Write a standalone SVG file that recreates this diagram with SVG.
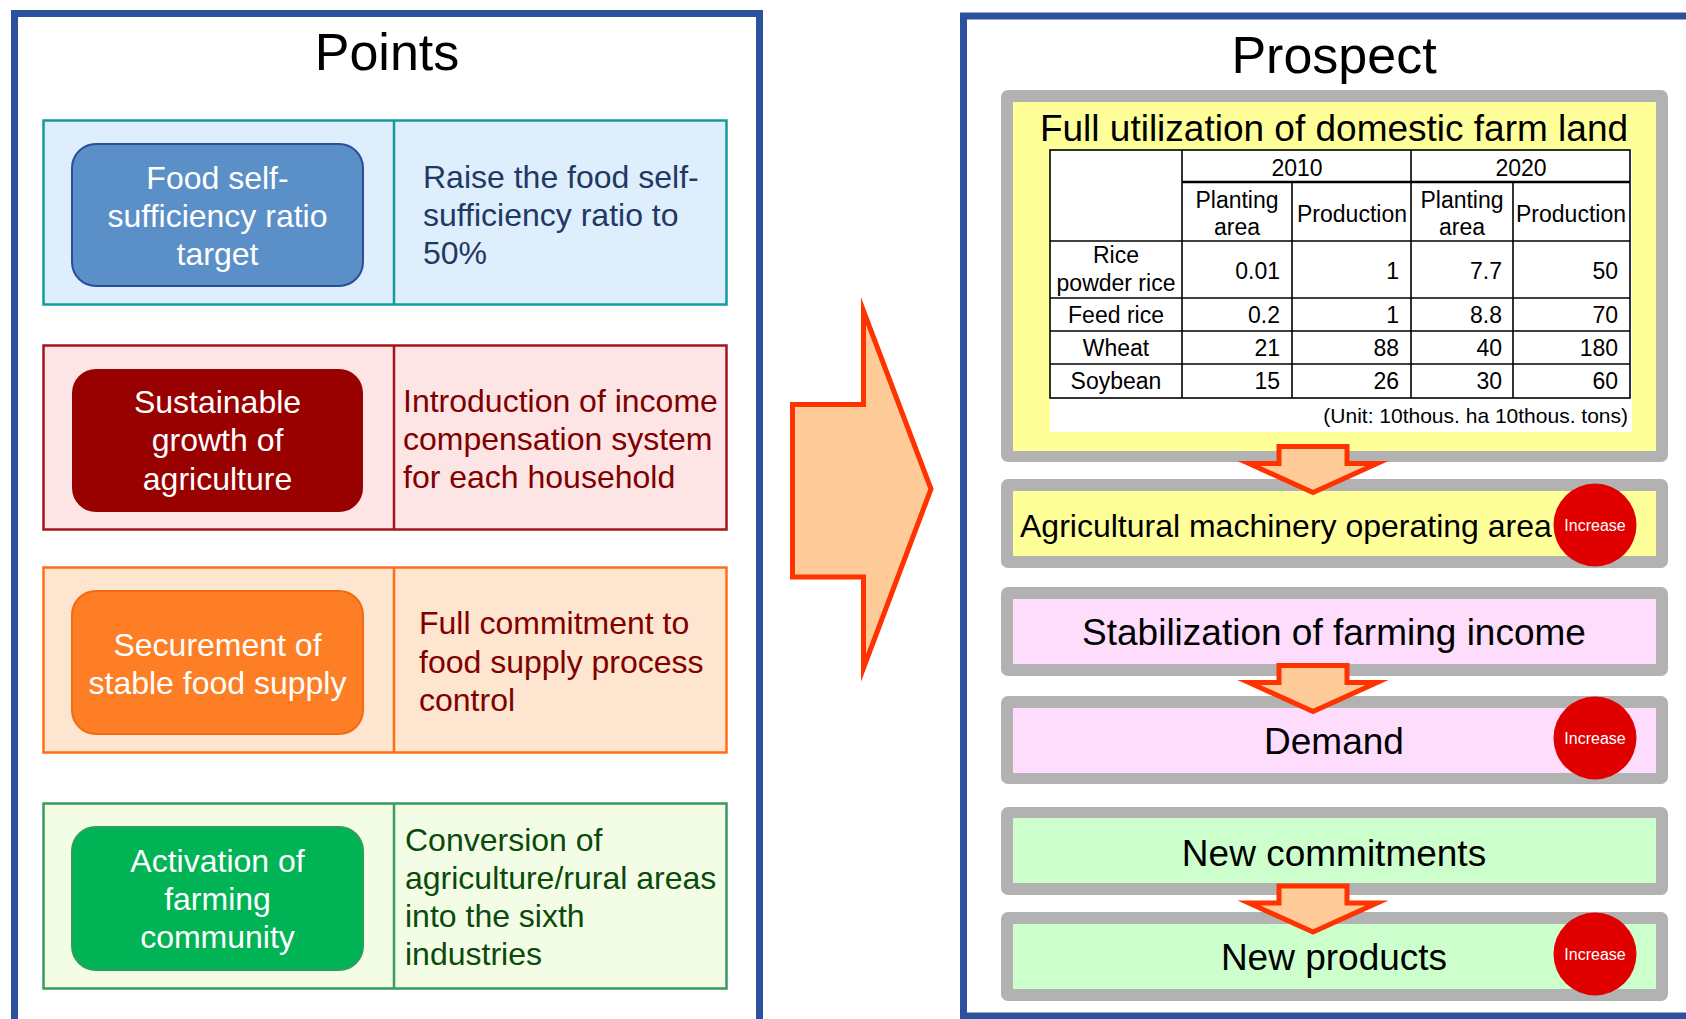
<svg xmlns="http://www.w3.org/2000/svg" width="1686" height="1019" viewBox="0 0 1686 1019">
  <style>
    text { font-family: "Liberation Sans", Arial, sans-serif; }
    .title { font-size: 52px; fill: #000; text-anchor: middle; }
    .pill { font-size: 32px; fill: #fff; text-anchor: middle; }
    .desc { font-size: 32px; }
    .panel { fill: #fff; stroke: #2c519e; stroke-width: 7; }
    .frame { fill: #b2b2b2; }
    .big { font-size: 37px; fill: #000; text-anchor: middle; }
    .tbl { font-size: 23px; fill: #000; }
    .mid { text-anchor: middle; }
    .num { text-anchor: end; }
    .grid { stroke: #000; stroke-width: 1.6; fill: none; }
    .badge { fill: #e00000; }
    .badge-t { font-size: 16px; fill: #fff; text-anchor: middle; }
    .flow { fill: #ffcc99; stroke: #ff3300; stroke-width: 5; stroke-miterlimit: 10; }
  </style>
  <defs>
    <polygon id="down-arrow" points="-34,0 34,0 34,17 64,17 0,46 -64,17 -34,17"/>
  </defs>

  <rect width="1686" height="1019" fill="#fff"/>

  <!-- Left panel: Points -->
  <g id="points-panel">
    <rect class="panel" x="14.5" y="13.5" width="745" height="1030"/>
    <text class="title" x="387" y="70">Points</text>
  </g>

  <g id="point-1">
    <rect x="43.5" y="120.5" width="683" height="184" fill="#deeefc" stroke="#139c9c" stroke-width="2.5"/>
    <line x1="394" y1="120.5" x2="394" y2="304.5" stroke="#139c9c" stroke-width="2.5"/>
    <rect x="72" y="144" width="291" height="142" rx="24" fill="#5b8fc8" stroke="#2a4e9a" stroke-width="2"/>
    <text class="pill" x="217.5" y="189">Food self-</text>
    <text class="pill" x="217.5" y="227">sufficiency ratio</text>
    <text class="pill" x="217.5" y="265">target</text>
    <text class="desc" x="423" y="188" fill="#1f3864">Raise the food self-</text>
    <text class="desc" x="423" y="226" fill="#1f3864">sufficiency ratio to</text>
    <text class="desc" x="423" y="264" fill="#1f3864">50%</text>
  </g>

  <g id="point-2">
    <rect x="43.5" y="345.5" width="683" height="184" fill="#fde5e5" stroke="#a3141c" stroke-width="2.5"/>
    <line x1="394" y1="345.5" x2="394" y2="529.5" stroke="#a3141c" stroke-width="2.5"/>
    <rect x="72" y="369" width="291" height="143" rx="24" fill="#990000"/>
    <text class="pill" x="217.5" y="413">Sustainable</text>
    <text class="pill" x="217.5" y="451">growth of</text>
    <text class="pill" x="217.5" y="490">agriculture</text>
    <text class="desc" x="403" y="412" fill="#800000">Introduction of income</text>
    <text class="desc" x="403" y="450" fill="#800000">compensation system</text>
    <text class="desc" x="403" y="488" fill="#800000">for each household</text>
  </g>

  <g id="point-3">
    <rect x="43.5" y="567.5" width="683" height="185" fill="#fde5cf" stroke="#ff6d1a" stroke-width="2.5"/>
    <line x1="394" y1="567.5" x2="394" y2="752.5" stroke="#ff6d1a" stroke-width="2.5"/>
    <rect x="72" y="591" width="291" height="143" rx="24" fill="#fd7e25" stroke="#f26b12" stroke-width="2"/>
    <text class="pill" x="217.5" y="656">Securement of</text>
    <text class="pill" x="217.5" y="694">stable food supply</text>
    <text class="desc" x="419" y="634" fill="#800000">Full commitment to</text>
    <text class="desc" x="419" y="673" fill="#800000">food supply process</text>
    <text class="desc" x="419" y="711" fill="#800000">control</text>
  </g>

  <g id="point-4">
    <rect x="43.5" y="803.5" width="683" height="185" fill="#f3fde6" stroke="#3a9a60" stroke-width="2.5"/>
    <line x1="394" y1="803.5" x2="394" y2="988.5" stroke="#3a9a60" stroke-width="2.5"/>
    <rect x="72" y="827" width="291" height="143" rx="24" fill="#00b456" stroke="#2e9e5a" stroke-width="2"/>
    <text class="pill" x="217.5" y="872">Activation of</text>
    <text class="pill" x="217.5" y="910">farming</text>
    <text class="pill" x="217.5" y="948">community</text>
    <text class="desc" x="405" y="851" fill="#0a4a0a">Conversion of</text>
    <text class="desc" x="405" y="889" fill="#0a4a0a">agriculture/rural areas</text>
    <text class="desc" x="405" y="927" fill="#0a4a0a">into the sixth</text>
    <text class="desc" x="405" y="965" fill="#0a4a0a">industries</text>
  </g>

  <!-- Right panel: Prospect -->
  <g id="prospect-panel">
    <rect class="panel" x="963.5" y="16" width="760" height="1000"/>
    <text class="title" x="1334" y="73">Prospect</text>
  </g>

  <g id="farm-land">
    <rect class="frame" x="1001" y="90" width="667" height="372" rx="7"/>
    <rect x="1013" y="102" width="643" height="349" fill="#ffff99"/>
    <text class="big" x="1334" y="141">Full utilization of domestic farm land</text>
    <rect x="1050" y="150" width="582" height="282" fill="#fff"/>
    <g class="grid">
      <rect x="1050" y="150" width="580" height="248"/>
      <line x1="1182" y1="150" x2="1182" y2="398"/>
      <line x1="1292" y1="182" x2="1292" y2="398"/>
      <line x1="1411" y1="150" x2="1411" y2="398"/>
      <line x1="1513" y1="182" x2="1513" y2="398"/>
      <line x1="1182" y1="182" x2="1630" y2="182" stroke-width="2.4"/>
      <line x1="1050" y1="241" x2="1630" y2="241"/>
      <line x1="1050" y1="298" x2="1630" y2="298"/>
      <line x1="1050" y1="331" x2="1630" y2="331"/>
      <line x1="1050" y1="364" x2="1630" y2="364"/>
    </g>
    <g class="tbl">
      <text class="mid" x="1297" y="176">2010</text>
      <text class="mid" x="1521" y="176">2020</text>
      <text class="mid" x="1237" y="208">Planting</text>
      <text class="mid" x="1237" y="235">area</text>
      <text class="mid" x="1352" y="222">Production</text>
      <text class="mid" x="1462" y="208">Planting</text>
      <text class="mid" x="1462" y="235">area</text>
      <text class="mid" x="1571" y="222">Production</text>

      <text class="mid" x="1116" y="263">Rice</text>
      <text class="mid" x="1116" y="291">powder rice</text>
      <text class="mid" x="1116" y="323">Feed rice</text>
      <text class="mid" x="1116" y="356">Wheat</text>
      <text class="mid" x="1116" y="389">Soybean</text>

      <text class="num" x="1280" y="279">0.01</text>
      <text class="num" x="1399" y="279">1</text>
      <text class="num" x="1502" y="279">7.7</text>
      <text class="num" x="1618" y="279">50</text>

      <text class="num" x="1280" y="323">0.2</text>
      <text class="num" x="1399" y="323">1</text>
      <text class="num" x="1502" y="323">8.8</text>
      <text class="num" x="1618" y="323">70</text>

      <text class="num" x="1280" y="356">21</text>
      <text class="num" x="1399" y="356">88</text>
      <text class="num" x="1502" y="356">40</text>
      <text class="num" x="1618" y="356">180</text>

      <text class="num" x="1280" y="389">15</text>
      <text class="num" x="1399" y="389">26</text>
      <text class="num" x="1502" y="389">30</text>
      <text class="num" x="1618" y="389">60</text>

      <text class="num" x="1628" y="423" font-size="21">(Unit: 10thous. ha 10thous. tons)</text>
    </g>
  </g>

  <g id="machinery-area">
    <rect class="frame" x="1001" y="479" width="667" height="89" rx="7"/>
    <rect x="1013" y="491" width="643" height="65" fill="#ffff99"/>
    <text x="1020" y="537" font-size="32" fill="#000">Agricultural machinery operating area</text>
  </g>

  <g id="farming-income">
    <rect class="frame" x="1001" y="587" width="667" height="89" rx="7"/>
    <rect x="1013" y="599" width="643" height="65" fill="#fddcfc"/>
    <text class="big" x="1334" y="645">Stabilization of farming income</text>
  </g>

  <g id="demand">
    <rect class="frame" x="1001" y="696" width="667" height="88" rx="7"/>
    <rect x="1013" y="708" width="643" height="65" fill="#fddcfc"/>
    <text class="big" x="1334" y="754">Demand</text>
  </g>

  <g id="new-commitments">
    <rect class="frame" x="1001" y="807" width="667" height="88" rx="7"/>
    <rect x="1013" y="818" width="643" height="65" fill="#ccffcc"/>
    <text class="big" x="1334" y="866">New commitments</text>
  </g>

  <g id="new-products">
    <rect class="frame" x="1001" y="912" width="667" height="89" rx="7"/>
    <rect x="1013" y="924" width="643" height="65" fill="#ccffcc"/>
    <text class="big" x="1334" y="970">New products</text>
  </g>

  <!-- Connectors: main arrow and step arrows -->
  <g id="connectors">
    <path class="flow" stroke-width="7" d="M792.5 404.5 H863.5 V311 L931 489 L863.5 668 V577 H792.5 Z"/>
    <use href="#down-arrow" class="flow" transform="translate(1313 446.5)"/>
    <use href="#down-arrow" class="flow" transform="translate(1313 665.5)"/>
    <use href="#down-arrow" class="flow" transform="translate(1313 886)"/>
  </g>

  <!-- Increase badges -->
  <g id="badge-machinery">
    <circle class="badge" cx="1595" cy="525" r="41.5"/>
    <text class="badge-t" x="1595" y="531">Increase</text>
  </g>
  <g id="badge-demand">
    <circle class="badge" cx="1595" cy="738" r="41.5"/>
    <text class="badge-t" x="1595" y="744">Increase</text>
  </g>
  <g id="badge-products">
    <circle class="badge" cx="1595" cy="954" r="41.5"/>
    <text class="badge-t" x="1595" y="960">Increase</text>
  </g>
</svg>
